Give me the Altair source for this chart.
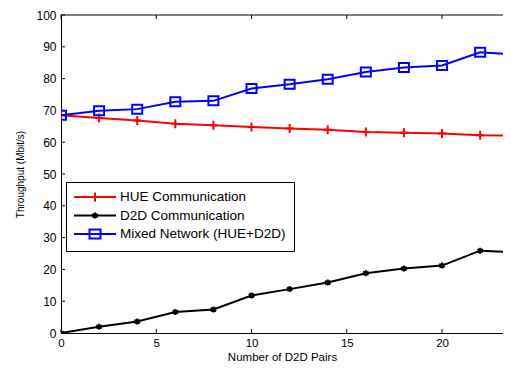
import altair as alt
import pandas as pd

# ---- data ----
pairs = [0, 2, 4, 6, 8, 10, 12, 14, 16, 18, 20, 22, 24]
hue = [68.5, 67.6, 66.8, 65.8, 65.3, 64.8, 64.3, 63.9, 63.2, 63.0, 62.7, 62.2, 62.1]
d2d = [0.0, 2.0, 3.6, 6.6, 7.4, 11.8, 13.8, 15.9, 18.8, 20.3, 21.2, 25.9, 25.3]
mixed = [68.5, 69.9, 70.4, 72.7, 73.0, 76.9, 78.2, 79.8, 82.1, 83.5, 84.1, 88.3, 87.5]
series_names = ["HUE Communication", "D2D Communication", "Mixed Network (HUE+D2D)"]
series_colors = ["#ff0000", "#000000", "#0000ff"]
x_ticks = [0, 5, 10, 15, 20]
y_ticks = [0, 10, 20, 30, 40, 50, 60, 70, 80, 90, 100]

FONT = "Liberation Sans"
W, H = 442, 318

rows = []
for name, vals in zip(series_names, [hue, d2d, mixed]):
    for p, v in zip(pairs, vals):
        rows.append({"pairs": p, "tp": v, "series": name})
df = pd.DataFrame(rows)

# ---- marker shapes (unit paths) ----
marker_paths = [
    "M-0.8,0H0.8M0,-0.9V0.9",
    "M0,-0.6V0.6M-0.55,-0.32L0.55,0.32M-0.55,0.32L0.55,-0.32",
    "M-1,-0.9H1V0.9H-1Z",
]

# legend symbols: line + marker, built in pixel terms then converted to units
k = 6.0       # px per unit for symbolSize 144
c = 7.0       # symbol centre offset inside entry
def u(px):
    return round((px - c) / k, 3)
def uy(px):
    return round(px / k, 3)
line = f"M{u(0)},0H{u(42)}"
mc = 21
legend_paths = [
    line + f"M{u(mc)},{uy(-4.5)}V{uy(4.5)}M{u(mc-4)},0H{u(mc+4)}",
    line + f"M{u(mc)},{uy(-3)}V{uy(3)}M{u(mc-2.6)},{uy(-1.6)}L{u(mc+2.6)},{uy(1.6)}M{u(mc-2.6)},{uy(1.6)}L{u(mc+2.6)},{uy(-1.6)}",
    line + f"M{u(mc-5.5)},{uy(-4.5)}H{u(mc+5.5)}V{uy(4.5)}H{u(mc-5.5)}Z",
]

xscale = alt.Scale(domain=[0, 23.2], nice=False, zero=False)
yscale = alt.Scale(domain=[0, 100], nice=False)

x_enc = alt.X(
    "pairs:Q", scale=xscale,
    axis=alt.Axis(values=x_ticks, ticks=False, grid=False, domainColor="black",
                  domainWidth=1, labelFontSize=11.5, labelColor="black", labelFont=FONT,
                  labelPadding=4, labelFlush=False, labelOverlap=False,
                  title="Number of D2D Pairs", titleFontSize=11.5, titleFont=FONT,
                  titleFontWeight="normal", titleColor="black", titleY=27,
                  titleBaseline="alphabetic"),
)
y_enc = alt.Y(
    "tp:Q", scale=yscale,
    axis=alt.Axis(values=y_ticks, ticks=False, grid=False, domainColor="black",
                  domainWidth=1, labelFontSize=12, labelColor="black", labelFont=FONT,
                  labelPadding=5, labelOverlap=False,
                  title="Throughput (Mbit/s)", titleFontSize=10, titleFont=FONT,
                  titleFontWeight="normal", titleColor="black", titleX=-41, titleY=H / 2,
                  titleAngle=270, titleBaseline="middle", titleAlign="center"),
)

base = alt.Chart(df)
layers = []
for name, col, path in zip(series_names, series_colors, marker_paths):
    sub = base.transform_filter(alt.datum.series == name)
    layers.append(sub.mark_line(color=col, strokeWidth=2, clip=True).encode(x=x_enc, y=y_enc))
    layers.append(
        sub.mark_point(shape=path, size=100, filled=False, color=col, strokeWidth=2,
                       opacity=1, clip=True).encode(x=x_enc, y=y_enc)
    )

leg = alt.Legend(title=None, orient="none", legendX=5, legendY=167, padding=8,
                 strokeColor="black", fillColor="white", cornerRadius=0,
                 symbolSize=144, symbolStrokeWidth=2, labelFontSize=13.5, labelFont=FONT,
                 labelColor="black", labelOffset=32, rowPadding=2.5, labelLimit=0)
legend_layer = base.transform_filter("false").mark_point(
    filled=False, strokeWidth=2, opacity=1, clip=True
).encode(
    x=x_enc, y=y_enc,
    color=alt.Color("series:N", scale=alt.Scale(domain=series_names, range=series_colors), legend=leg),
    shape=alt.Shape("series:N", scale=alt.Scale(domain=series_names, range=legend_paths), legend=leg),
)

ytick_df = pd.DataFrame({"tp": y_ticks})
xtick_df = pd.DataFrame({"pairs": x_ticks})
ytick = alt.Chart(ytick_df).mark_rule(color="black", strokeWidth=1).encode(
    y=y_enc, x=alt.value(0), x2=alt.value(4))
xtick_b = alt.Chart(xtick_df).mark_rule(color="black", strokeWidth=1).encode(
    x=x_enc, y=alt.value(H), y2=alt.value(H - 4))
xtick_t = alt.Chart(xtick_df).mark_rule(color="black", strokeWidth=1).encode(
    x=x_enc, y=alt.value(0), y2=alt.value(4))
top_border = alt.Chart(xtick_df.head(1)).mark_rule(color="black", strokeWidth=1).encode(
    x=alt.value(0), x2=alt.value(W), y=alt.value(0))

chart = alt.layer(
    ytick, xtick_b, xtick_t, top_border, *layers, legend_layer
).properties(
    width=W, height=H,
    autosize=alt.AutoSizeParams(type="none"),
    padding={"left": 53, "top": 7, "right": 0, "bottom": 29},
    background="white",
).configure_view(stroke=None)

chart.save("out.html", embed_options={"renderer": "svg", "actions": False})
